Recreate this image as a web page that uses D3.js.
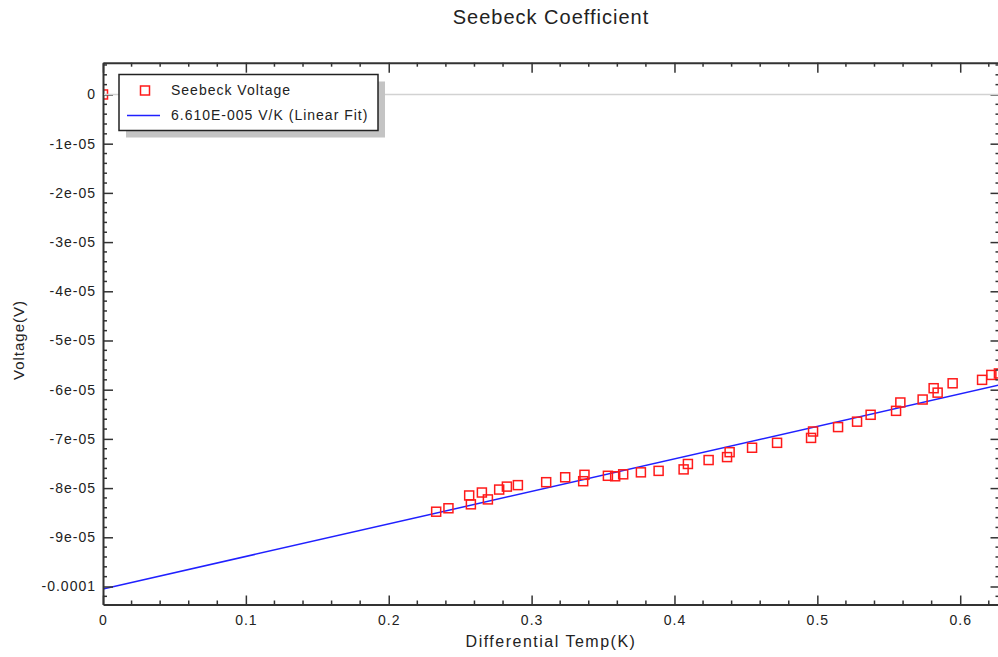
<!DOCTYPE html>
<html>
<head>
<meta charset="utf-8">
<script src="https://cdn.jsdelivr.net/npm/d3@7"></script>
<style>
  body { margin: 0; background: #fff; }
  text { font-family: "Liberation Sans", Arial, sans-serif; fill: #222; }
</style>
</head>
<body>
<div id="chart"></div>
<script>
// Data
const temps = [0, 0.2332, 0.2418, 0.2563, 0.2575, 0.2652, 0.2694, 0.2773, 0.2827, 0.2904,
  0.3102, 0.3235, 0.3370, 0.3361, 0.3534, 0.3585, 0.3641, 0.3765, 0.3889, 0.4064,
  0.4094, 0.4239, 0.4368, 0.4386, 0.4543, 0.4718, 0.4956, 0.4970, 0.5145, 0.5278,
  0.5373, 0.5551, 0.5581, 0.5737, 0.5814, 0.5842, 0.5947, 0.6153, 0.6218, 0.6271]
const voltages = [0, -8.48e-5, -8.41e-5, -8.15e-5, -8.33e-5, -8.09e-5, -8.23e-5, -8.03e-5, -7.97e-5, -7.94e-5,
  -7.88e-5, -7.78e-5, -7.73e-5, -7.86e-5, -7.75e-5, -7.76e-5, -7.72e-5, -7.68e-5, -7.65e-5, -7.62e-5,
  -7.51e-5, -7.43e-5, -7.37e-5, -7.27e-5, -7.18e-5, -7.08e-5, -6.98e-5, -6.85e-5, -6.76e-5, -6.65e-5,
  -6.51e-5, -6.43e-5, -6.26e-5, -6.20e-5, -5.97e-5, -6.06e-5, -5.87e-5, -5.80e-5, -5.70e-5, -5.67e-5]

const fitSlope = 6.610e-5
const fitIntercept = -1.005e-4

const xTicks = [0, 0.1, 0.2, 0.3, 0.4, 0.5, 0.6]
const xTickLabels = ["0", "0.1", "0.2", "0.3", "0.4", "0.5", "0.6"]
const yTicks = [0, -1e-5, -2e-5, -3e-5, -4e-5, -5e-5, -6e-5, -7e-5, -8e-5, -9e-5, -1e-4]
const yTickLabels = ["0", "-1e-05", "-2e-05", "-3e-05", "-4e-05", "-5e-05", "-6e-05", "-7e-05", "-8e-05", "-9e-05", "-0.0001"]

const legendLabels = ["Seebeck Voltage", "6.610E-005 V/K (Linear Fit)"]

const dataset = temps.map((t, i) => ({ t: t, v: voltages[i] }))

// Dimensions
let dimensions = {
  width: 998,
  height: 657,
  margin: { top: 62.7, right: -0.5, bottom: 52.5, left: 103 },
}
dimensions.boundedWidth = dimensions.width - dimensions.margin.left - dimensions.margin.right
dimensions.boundedHeight = dimensions.height - dimensions.margin.top - dimensions.margin.bottom

const svg = d3.select("#chart").append("svg")
  .attr("width", dimensions.width)
  .attr("height", dimensions.height)

const bounds = svg.append("g")
  .attr("transform", `translate(${dimensions.margin.left},${dimensions.margin.top})`)

svg.append("defs").append("clipPath").attr("id", "plotClip")
  .append("rect")
    .attr("width", dimensions.boundedWidth)
    .attr("height", dimensions.boundedHeight)

// Scales
const xScale = d3.scaleLinear()
  .domain([0, 0.6268])
  .range([0, dimensions.boundedWidth])
const yScale = d3.scaleLinear()
  .domain([-1.0366e-4, 6.46e-6])
  .range([dimensions.boundedHeight, 0])

// Fit line
const plot = bounds.append("g").attr("clip-path", "url(#plotClip)")
const xd = xScale.domain()
plot.append("line")
  .attr("x1", xScale(xd[0])).attr("y1", yScale(fitIntercept + fitSlope * xd[0]))
  .attr("x2", xScale(xd[1])).attr("y2", yScale(fitIntercept + fitSlope * xd[1]))
  .attr("stroke", "#2020ff")
  .attr("stroke-width", 1.5)

// Points
const sq = 9
plot.selectAll("rect.pt")
  .data(dataset)
  .enter()
  .append("rect")
    .attr("class", "pt")
    .attr("x", d => xScale(d.t) - sq / 2)
    .attr("y", d => yScale(d.v) - sq / 2)
    .attr("width", sq)
    .attr("height", sq)
    .attr("fill", "none")
    .attr("stroke", "#ff1a1a")
    .attr("stroke-width", 1.5)

// Axes
const xMinor = d3.range(0, 0.63, 0.02).filter(v => Math.abs(v * 10 - Math.round(v * 10)) > 1e-6)
const yMinor = d3.range(-1.02e-4, 6.5e-6, 2e-6).filter(v => Math.abs(v * 1e5 - Math.round(v * 1e5)) > 1e-6)

const xAxisBottom = d3.axisBottom(xScale).tickValues(xTicks)
  .tickFormat((d, i) => xTickLabels[i]).tickSizeInner(-9).tickSizeOuter(0).tickPadding(15.5)
const xAxisTop = d3.axisTop(xScale).tickValues(xTicks)
  .tickFormat("").tickSizeInner(-10).tickSizeOuter(0)
const yAxisLeft = d3.axisLeft(yScale).tickValues(yTicks)
  .tickFormat((d, i) => yTickLabels[i]).tickSizeInner(-10).tickSizeOuter(0).tickPadding(7)
const yAxisRight = d3.axisRight(yScale).tickValues(yTicks)
  .tickFormat("").tickSizeInner(-8).tickSizeOuter(0)

function styleAxis(g) {
  g.select(".domain").attr("stroke", "#333").attr("stroke-width", 2)
  g.selectAll(".tick line").attr("stroke", "#333").attr("stroke-width", 1.5)
  g.selectAll(".tick text").style("font-size", "14px").style("letter-spacing", "1px")
    .attr("fill", "#222")
    .style("font-family", '"Liberation Sans", Arial, sans-serif')
}

bounds.append("g")
  .attr("transform", `translate(0,${dimensions.boundedHeight})`)
  .call(xAxisBottom).call(styleAxis)
  .selectAll(".tick text").attr("dy", "0.35em")
bounds.append("g").call(xAxisTop).call(styleAxis)
bounds.append("g").call(yAxisLeft).call(styleAxis)
bounds.append("g")
  .attr("transform", `translate(${dimensions.boundedWidth},0)`)
  .call(yAxisRight).call(styleAxis)

// minor ticks
const minor = bounds.append("g").attr("stroke", "#333").attr("stroke-width", 1.5)
minor.selectAll("line.xb").data(xMinor).enter().append("line")
  .attr("x1", d => xScale(d)).attr("x2", d => xScale(d))
  .attr("y1", dimensions.boundedHeight).attr("y2", dimensions.boundedHeight - 4)
minor.selectAll("line.xt").data(xMinor).enter().append("line")
  .attr("x1", d => xScale(d)).attr("x2", d => xScale(d))
  .attr("y1", 0).attr("y2", 4)
minor.selectAll("line.yl").data(yMinor).enter().append("line")
  .attr("y1", d => yScale(d)).attr("y2", d => yScale(d))
  .attr("x1", 0).attr("x2", 4)
minor.selectAll("line.yr").data(yMinor).enter().append("line")
  .attr("y1", d => yScale(d)).attr("y2", d => yScale(d))
  .attr("x1", dimensions.boundedWidth - 3).attr("x2", dimensions.boundedWidth)

// Legend
const legend = svg.append("g").attr("transform", "translate(119,74.5)")
legend.append("rect")
  .attr("x", 7).attr("y", 7).attr("width", 259).attr("height", 56)
  .attr("fill", "#c4c4c4")
legend.append("rect")
  .attr("width", 259).attr("height", 56)
  .attr("fill", "#fff").attr("stroke", "#222").attr("stroke-width", 1.5)
legend.append("rect")
  .attr("x", 26 - 4.5).attr("y", 16 - 4.5).attr("width", 9).attr("height", 9)
  .attr("fill", "none").attr("stroke", "#ff1a1a").attr("stroke-width", 1.5)
legend.append("line")
  .attr("x1", 8).attr("x2", 41).attr("y1", 41).attr("y2", 41)
  .attr("stroke", "#2020ff").attr("stroke-width", 1.5)
legend.selectAll("text.lg").data(legendLabels).enter().append("text")
  .attr("x", 52)
  .attr("y", (d, i) => 16 + i * 25)
  .attr("dy", "0.35em")
  .style("font-size", "14px")
  .style("letter-spacing", "1px")
  .text(d => d)

// Zero line (drawn over the legend, as in the original)
bounds.append("line")
  .attr("x1", 1).attr("x2", dimensions.boundedWidth)
  .attr("y1", yScale(0)).attr("y2", yScale(0))
  .attr("stroke", "#d2d2d2").attr("stroke-width", 1.5)

// Titles
svg.append("text")
  .attr("x", 551).attr("y", 17).attr("dy", "0.35em")
  .attr("text-anchor", "middle")
  .style("font-size", "20px")
  .style("letter-spacing", "1px")
  .text("Seebeck Coefficient")
svg.append("text")
  .attr("x", 551).attr("y", 641).attr("dy", "0.35em")
  .attr("text-anchor", "middle")
  .style("font-size", "16px")
  .style("letter-spacing", "1.5px")
  .text("Differential Temp(K)")
svg.append("text")
  .attr("transform", "translate(19,340) rotate(-90)")
  .attr("dy", "0.35em")
  .attr("text-anchor", "middle")
  .style("font-size", "15px")
  .style("letter-spacing", "1px")
  .text("Voltage(V)")
</script>
</body>
</html>
